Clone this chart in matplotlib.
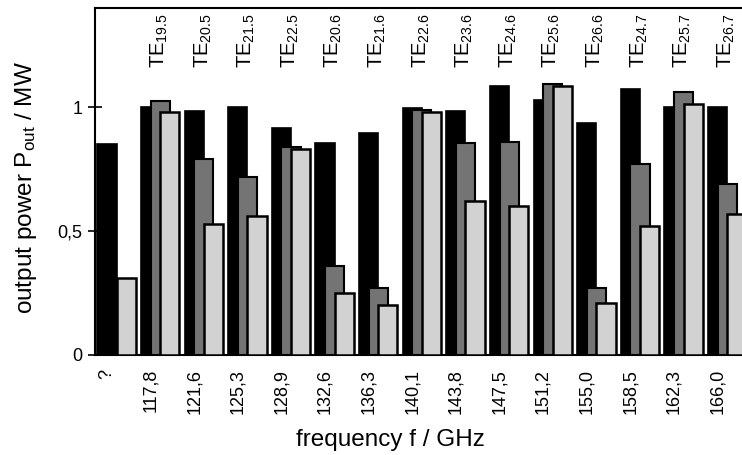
import numpy as np
import matplotlib
matplotlib.use("Agg")
import matplotlib.pyplot as plt

plt.rcParams["font.family"] = ["Liberation Sans", "DejaVu Sans"]
plt.rcParams["mathtext.fontset"] = "custom"
plt.rcParams["mathtext.rm"] = "Liberation Sans"
plt.rcParams["mathtext.it"] = "Liberation Sans"

freqs = ["?", "117,8", "121,6", "125,3", "128,9", "132,6", "136,3", "140,1",
         "143,8", "147,5", "151,2", "155,0", "158,5", "162,3", "166,0"]
modes = ["", "19.5", "20.5", "21.5", "22.5", "20.6", "21.6", "22.6",
         "23.6", "24.6", "25.6", "26.6", "24.7", "25.7", "26.7"]
p_black = [0.85, 1.00, 0.985, 1.00, 0.915, 0.855, 0.895, 0.995,
           0.985, 1.085, 1.03, 0.935, 1.075, 1.00, 1.00]
p_dark = [np.nan, 1.025, 0.79, 0.72, 0.84, 0.36, 0.27, 0.99,
          0.855, 0.86, 1.095, 0.27, 0.77, 1.06, 0.69]
p_light = [0.31, 0.98, 0.53, 0.56, 0.83, 0.25, 0.20, 0.98,
           0.62, 0.60, 1.085, 0.21, 0.52, 1.015, 0.57]

x = np.arange(len(freqs))
w = 0.44
d = 0.22

fig = plt.figure(figsize=(7.42, 4.55), dpi=100)
ax = fig.add_axes([0.128, 0.22, 0.872, 0.762])

ax.bar(x, p_black, w, color="black", edgecolor="black", linewidth=1.2, zorder=2)
ax.bar(x + d, p_dark, w, color="#747474", edgecolor="black", linewidth=1.5, zorder=3)
ax.bar(x + 2 * d, p_light, w, color="#d2d2d2", edgecolor="black", linewidth=1.8, zorder=4)

for xi, m in zip(x, modes):
    if m:
        ax.text(xi + 0.2, 1.16, r"$\mathrm{TE}_{%s}$" % m, rotation=90,
                ha="center", va="bottom", fontsize=14.5)

ax.set_xlim(-0.275, 14.56)
ax.set_ylim(0, 1.40)
ax.set_yticks([0, 0.5, 1])
ax.set_yticklabels(["0", "0,5", "1"], fontsize=13)
ax.set_xticks(x)
ax.set_xticklabels(freqs, rotation=90, fontsize=13)
ax.tick_params(axis="y", direction="inout", length=10, width=1.2, pad=4)
ax.tick_params(axis="x", direction="in", length=4, width=1, pad=10)

ax.set_xlabel("frequency f / GHz", fontsize=17.5)
ax.set_ylabel(r"output power P$_{\mathrm{out}}$ / MW", fontsize=17.5)
ax.xaxis.set_label_coords(0.456, -0.213)
ax.yaxis.set_label_coords(-0.086, 0.484)

for s in ["left", "top", "bottom"]:
    ax.spines[s].set_linewidth(1.5)
ax.spines["right"].set_visible(False)

fig.savefig("out.png", dpi=100)
